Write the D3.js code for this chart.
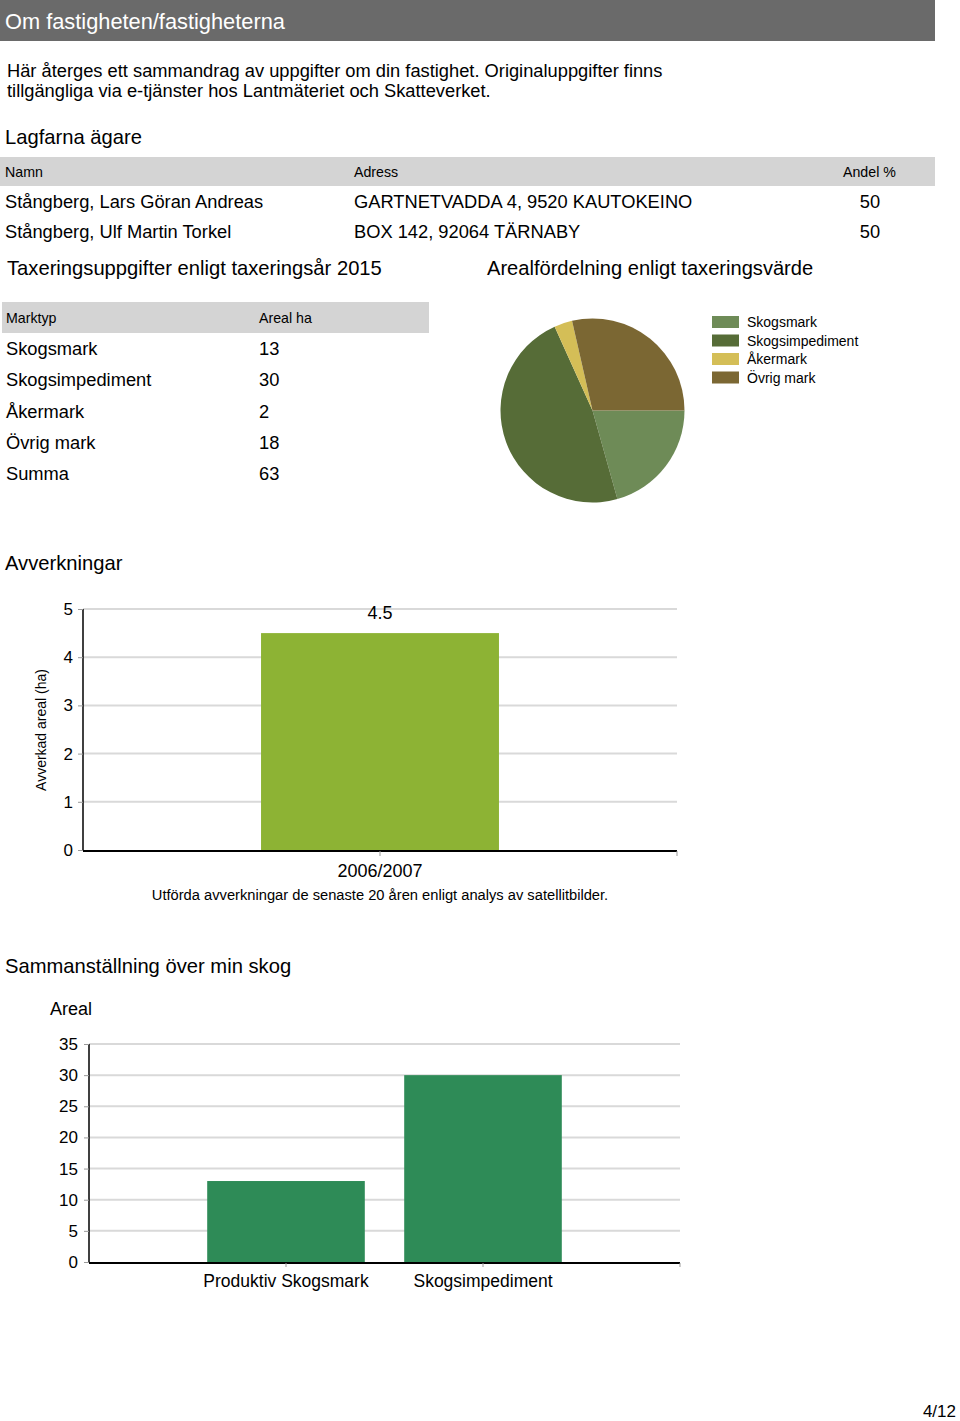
<!DOCTYPE html>
<html><head><meta charset="utf-8">
<script src="https://cdn.jsdelivr.net/npm/d3@7"></script>
<style>
html,body{margin:0;padding:0;background:#fff;}
svg{display:block;font-family:"Liberation Sans",Arial,Helvetica,sans-serif;}
</style></head>
<body>
<svg id="page" width="960" height="1421"></svg>
<script>
// ---- data ----
const owners = ["Stångberg, Lars Göran Andreas", "Stångberg, Ulf Martin Torkel"];
const addresses = ["GARTNETVADDA 4, 9520 KAUTOKEINO", "BOX 142, 92064 TÄRNABY"];
const shares = [50, 50];

const landTypes = ["Skogsmark", "Skogsimpediment", "Åkermark", "Övrig mark"];
const landAreas = [13, 30, 2, 18];
const landTotal = 63;
const landColors = ["#6e8b57", "#566c37", "#d4be57", "#7b6733"];

const harvestYears = ["2006/2007"];
const harvestAreas = [4.5];
const harvestTicks = [0, 1, 2, 3, 4, 5];

const forestCats = ["Produktiv Skogsmark", "Skogsimpediment"];
const forestAreas = [13, 30];
const forestTicks = [0, 5, 10, 15, 20, 25, 30, 35];

const svg = d3.select("#page");
const txt = (x, y, s, size, opts = {}) => svg.append("text")
  .attr("x", x).attr("y", y).attr("font-size", size)
  .attr("fill", opts.fill || "#000")
  .attr("text-anchor", opts.anchor || "start")
  .text(s);

// ---- header ----
svg.append("rect").attr("x", 0).attr("y", 0).attr("width", 935).attr("height", 41).attr("fill", "#6a6a6a");
txt(5, 29, "Om fastigheten/fastigheterna", 21.8, {fill: "#fff"});
txt(7, 77, "Här återges ett sammandrag av uppgifter om din fastighet. Originaluppgifter finns", 18.3);
txt(7, 97, "tillgängliga via e-tjänster hos Lantmäteriet och Skatteverket.", 18.3);

txt(5, 144, "Lagfarna ägare", 20.2);
svg.append("rect").attr("x", 0).attr("y", 157).attr("width", 935).attr("height", 29).attr("fill", "#d4d4d4");
txt(5, 177, "Namn", 14.2);
txt(354, 177, "Adress", 14.2);
txt(843, 177, "Andel %", 14.2);
owners.forEach((o, i) => {
  const y = 208 + i * 30;
  txt(5, y, o, 18.3);
  txt(354, y, addresses[i], 18.3);
  txt(870, y, shares[i], 18.3, {anchor: "middle"});
});

txt(7, 275, "Taxeringsuppgifter enligt taxeringsår 2015", 20.2);
txt(487, 275, "Arealfördelning enligt taxeringsvärde", 20.1);

svg.append("rect").attr("x", 2).attr("y", 302).attr("width", 427).attr("height", 31).attr("fill", "#d4d4d4");
txt(6, 323, "Marktyp", 14.2);
txt(259, 323, "Areal ha", 14.2);
const rows = landTypes.map((t, i) => [t, landAreas[i]]).concat([["Summa", landTotal]]);
rows.forEach((r, i) => {
  const y = 355 + i * 31.3;
  txt(6, y, r[0], 18.3);
  txt(259, y, r[1], 18.3);
});

// ---- pie ----
const pie = d3.pie().sort(null).startAngle(Math.PI / 2).endAngle(Math.PI / 2 + 2 * Math.PI);
const arc = d3.arc().innerRadius(0).outerRadius(92);
const pg = svg.append("g").attr("transform", "translate(592.5,410.5)");
pg.selectAll("path").data(pie(landAreas)).join("path")
  .attr("d", arc).attr("fill", (d, i) => landColors[i]);

const lg = svg.append("g").attr("transform", "translate(712,316)");
landTypes.forEach((t, i) => {
  lg.append("rect").attr("x", 0).attr("y", i * 18.5).attr("width", 27).attr("height", 12).attr("fill", landColors[i]);
  lg.append("text").attr("x", 35).attr("y", i * 18.5 + 11).attr("font-size", 14).text(t);
});

// ---- harvest chart ----
txt(5, 570, "Avverkningar", 20.2);
{
  const x0 = 83, x1 = 677, yTop = 609, yBot = 850;
  const y = d3.scaleLinear().domain([0, 5]).range([yBot, yTop]);
  const x = d3.scaleBand().domain(harvestYears).range([x0, x1]).paddingInner(0.428).paddingOuter(0.428);
  const g = svg.append("g");
  g.selectAll("line.grid").data(harvestTicks.filter(d => d > 0)).join("line")
    .attr("x1", x0).attr("x2", x1).attr("y1", d => y(d)).attr("y2", d => y(d))
    .attr("stroke", "#d9d9d9").attr("stroke-width", 2);
  g.selectAll("rect").data(harvestAreas).join("rect")
    .attr("x", (d, i) => x(harvestYears[i])).attr("width", x.bandwidth())
    .attr("y", d => y(d)).attr("height", d => yBot - y(d)).attr("fill", "#8db334");
  g.selectAll("text.val").data(harvestAreas).join("text")
    .attr("x", (d, i) => x(harvestYears[i]) + x.bandwidth() / 2).attr("y", 619)
    .attr("text-anchor", "middle").attr("font-size", 18).text(d => d);
  const ya = g.append("g").attr("transform", `translate(${x0},0)`)
    .call(d3.axisLeft(y).tickValues(harvestTicks).tickSize(5).tickPadding(5).tickFormat(d3.format("d")));
  ya.select(".domain").attr("stroke", "#000").attr("stroke-width", 1.5).attr("d", `M0,${yTop}V${yBot}`);
  ya.selectAll(".tick line").attr("stroke", "#999");
  ya.selectAll(".tick text").attr("font-size", 17).attr("font-family", "inherit").attr("fill", "#000");
  const xa = g.append("g").attr("transform", `translate(0,${yBot + 1})`)
    .call(d3.axisBottom(x).tickSize(5).tickPadding(8));
  xa.select(".domain").attr("stroke", "#000").attr("stroke-width", 2).attr("d", `M${x0},0H${x1}`);
  xa.selectAll(".tick line").attr("stroke", "#999");
  xa.selectAll(".tick text").attr("font-size", 18).attr("font-family", "inherit").attr("fill", "#000");
  g.append("line").attr("x1", x1).attr("x2", x1).attr("y1", yBot + 1).attr("y2", yBot + 6).attr("stroke", "#999");
  g.append("text").attr("transform", "translate(46,730) rotate(-90)").attr("text-anchor", "middle")
    .attr("font-size", 14).text("Avverkad areal (ha)");
  txt(380, 900, "Utförda avverkningar de senaste 20 åren enligt analys av satellitbilder.", 14.7, {anchor: "middle"});
}

// ---- forest summary chart ----
txt(5, 973, "Sammanställning över min skog", 20.2);
txt(50, 1015, "Areal", 18);
{
  const x0 = 89, x1 = 680, yTop = 1044, yBot = 1262;
  const y = d3.scaleLinear().domain([0, 35]).range([yBot, yTop]);
  const x = d3.scaleBand().domain(forestCats).range([x0, x1]).paddingInner(0.2).paddingOuter(0.6);
  const g = svg.append("g");
  g.selectAll("line.grid").data(forestTicks.filter(d => d > 0)).join("line")
    .attr("x1", x0).attr("x2", x1).attr("y1", d => y(d)).attr("y2", d => y(d))
    .attr("stroke", "#d9d9d9").attr("stroke-width", 2);
  g.selectAll("rect").data(forestAreas).join("rect")
    .attr("x", (d, i) => x(forestCats[i])).attr("width", x.bandwidth())
    .attr("y", d => y(d)).attr("height", d => yBot - y(d)).attr("fill", "#2e8b57");
  const ya = g.append("g").attr("transform", `translate(${x0},0)`)
    .call(d3.axisLeft(y).tickValues(forestTicks).tickSize(5).tickPadding(6).tickFormat(d3.format("d")));
  ya.select(".domain").attr("stroke", "#000").attr("stroke-width", 1.5).attr("d", `M0,${yTop}V${yBot}`);
  ya.selectAll(".tick line").attr("stroke", "#999");
  ya.selectAll(".tick text").attr("font-size", 17).attr("font-family", "inherit").attr("fill", "#000");
  const xa = g.append("g").attr("transform", `translate(0,${yBot + 1})`)
    .call(d3.axisBottom(x).tickSize(4).tickPadding(8));
  xa.select(".domain").attr("stroke", "#000").attr("stroke-width", 2).attr("d", `M${x0},0H${x1}`);
  xa.selectAll(".tick line").attr("stroke", "#999");
  xa.selectAll(".tick text").attr("font-size", 17.5).attr("font-family", "inherit").attr("fill", "#000");
  g.append("line").attr("x1", x1).attr("x2", x1).attr("y1", yBot + 1).attr("y2", yBot + 5).attr("stroke", "#999");
}

txt(956, 1417, "4/12", 17, {anchor: "end"});
</script>
</body></html>
